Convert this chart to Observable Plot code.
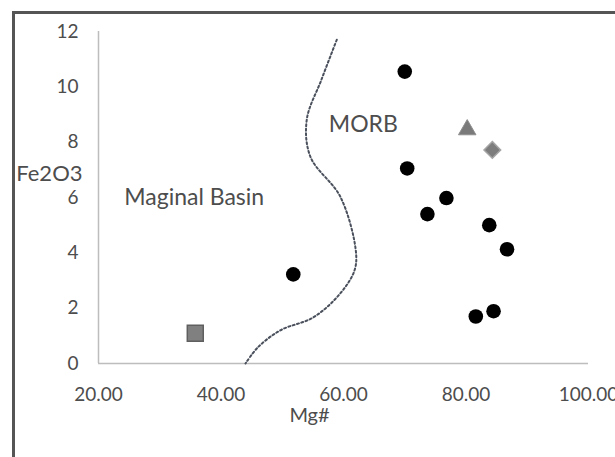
<!DOCTYPE html>
<html><head><meta charset="utf-8">
<script src="https://cdn.jsdelivr.net/npm/d3@7"></script>
<script src="https://cdn.jsdelivr.net/npm/@observablehq/plot@0.6"></script>
<style>
html,body{margin:0;padding:0;background:#fff;overflow:hidden;}
#wrap{position:relative;width:615px;height:457px;overflow:hidden;background:#fff;}
#frame{position:absolute;left:12px;top:11px;width:700px;height:600px;border-left:3px solid #555;border-top:3px solid #555;pointer-events:none;}
</style></head><body>
<div id="wrap"><div id="chart"></div><div id="frame"></div></div>
<script>
// Sample points (Mg#, Fe2O3)
const circleMg = [70.0, 70.4, 76.8, 73.7, 83.8, 86.7, 51.8, 81.6, 84.5];
const circleFe = [10.55, 7.05, 5.98, 5.40, 5.00, 4.13, 3.22, 1.70, 1.89];
const triangleMg = [80.2];
const triangleFe = [8.45];
const diamondMg = [84.3];
const diamondFe = [7.72];
const squareMg = [35.8];
const squareFe = [1.09];

// Dashed boundary between Marginal Basin and MORB fields
const boundaryMg = [58.9, 56.4, 54.0, 54.6, 59.5, 62.0, 61.8, 59.5, 55.1, 49.7, 46.0, 44.0];
const boundaryFe = [11.7, 10.26, 8.81, 7.47, 6.02, 4.10, 3.37, 2.54, 1.67, 1.20, 0.58, 0.0];

// Field labels
const fieldLabels = ["Maginal Basin", "MORB"];
const fieldMg = [24.2, 57.6];
const fieldFe = [6.0, 8.64];

// Axis ticks
const xTicks = [20, 40, 60, 80, 100];
const yTicks = [0, 2, 4, 6, 8, 10, 12];
const xTitle = "Mg#";
const yTitle = "Fe2O3";

const toPts = (xs, ys) => xs.map((x, i) => ({x, y: ys[i]}));

const chart = Plot.plot({
  width: 615,
  height: 457,
  marginLeft: 98,
  marginRight: 27,
  marginTop: 31,
  marginBottom: 94,
  style: {fontFamily: "Lato, 'Open Sans', sans-serif", fontSize: "19px", color: "#4d4d4d", background: "white"},
  x: {domain: [20, 100]},
  y: {domain: [0, 12]},
  marks: [
    Plot.axisX({ticks: xTicks, tickSize: 0, tickPadding: 24, tickFormat: d3.format(".2f"), label: null}),
    Plot.axisY({ticks: yTicks, tickSize: 0, tickPadding: 20, label: null}),
    Plot.ruleX([20], {stroke: "#bdbdbd", strokeWidth: 1.5}),
    Plot.ruleY([0], {stroke: "#bdbdbd", strokeWidth: 1.5}),
    Plot.line(toPts(boundaryMg, boundaryFe), {x: "x", y: "y", curve: "catmull-rom", stroke: "#4a505c", strokeWidth: 2, strokeDasharray: "2,2.5"}),
    Plot.dot(toPts(circleMg, circleFe), {x: "x", y: "y", r: 7.3, fill: "#000", symbol: "circle"}),
    Plot.dot(toPts(triangleMg, triangleFe), {x: "x", y: "y", r: 6.5, fill: "#7a7a7a", stroke: "#8f8f8f", strokeWidth: 1, symbol: "triangle"}),
    Plot.dot(toPts(diamondMg, diamondFe), {x: "x", y: "y", r: 7.5, fill: "#7d7d7d", stroke: "#a5a5a5", strokeWidth: 1.5, symbol: "diamond2"}),
    Plot.dot(toPts(squareMg, squareFe), {x: "x", y: "y", r: 9, fill: "#808080", stroke: "#5f5f5f", strokeWidth: 1.5, symbol: "square"}),
    Plot.text(fieldLabels, {x: (d, i) => fieldMg[i], y: (d, i) => fieldFe[i], text: d => d, textAnchor: "start", fontSize: 23, fill: "#4d4d4d"}),
    Plot.text([xTitle], {frameAnchor: "bottom", dx: -34, dy: 58, fontSize: 20, fill: "#4d4d4d"}),
    Plot.text([yTitle], {frameAnchor: "left", textAnchor: "end", dx: -16, dy: -24, fontSize: 22, fill: "#4d4d4d"})
  ]
});
document.getElementById("chart").appendChild(chart);
</script>
</body></html>
